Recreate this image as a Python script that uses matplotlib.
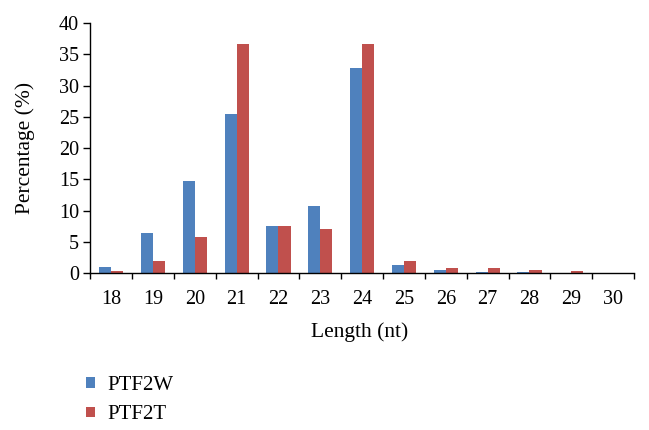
import numpy as np
import matplotlib
matplotlib.use("Agg")
import matplotlib.pyplot as plt
from matplotlib.ticker import FixedLocator

# data
lengths = ['18', '19', '20', '21', '22', '23', '24', '25', '26', '27', '28', '29', '30']
ptf2w = [1.0, 6.4, 14.8, 25.4, 7.6, 10.8, 32.8, 1.3, 0.5, 0.2, 0.1, 0.0, 0.0]
ptf2t = [0.4, 1.9, 5.7, 36.6, 7.6, 7.0, 36.6, 2.0, 0.8, 0.8, 0.5, 0.4, 0.0]

plt.rcParams['font.family'] = ['Liberation Serif', 'DejaVu Serif']

fig = plt.figure(figsize=(6.49, 4.30), dpi=100)
ax = fig.add_axes([0.139, 0.365, 0.838, 0.581])

x = np.arange(len(lengths))
w = 0.29
ax.bar(x - w / 2, ptf2w, w, color='#4F81BD', label='PTF2W')
ax.bar(x + w / 2, ptf2t, w, color='#C0504D', label='PTF2T')

ax.set_xlim(-0.5, len(lengths) - 0.5)
ax.set_ylim(0, 40)
ax.set_yticks(range(0, 41, 5))
ax.set_xticks(x)
ax.set_xticklabels(lengths)
ax.tick_params(axis='x', which='major', length=0, pad=12, labelsize=14.5)
ax.xaxis.set_minor_locator(FixedLocator(np.arange(-0.5, len(lengths), 1)))
ax.tick_params(axis='x', which='minor', length=4.5, width=1)
ax.tick_params(axis='y', length=5, width=1, labelsize=14.5, pad=3)

for s in ['top', 'right']:
    ax.spines[s].set_visible(False)
for s in ['left', 'bottom']:
    ax.spines[s].set_linewidth(1)

ax.set_xlabel('Length (nt)', fontsize=15.5)
ax.xaxis.set_label_coords(0.495, -0.197)
ax.set_ylabel('Percentage (%)', fontsize=15.5)
ax.yaxis.set_label_coords(-0.101, 0.5)

fig.legend(loc='upper left', bbox_to_anchor=(0.12, 0.145), frameon=False,
           fontsize=15, handlelength=0.42, handleheight=0.42, handletextpad=0.6,
           labelspacing=0.5, borderaxespad=0)

fig.savefig('out.png', dpi=100)
